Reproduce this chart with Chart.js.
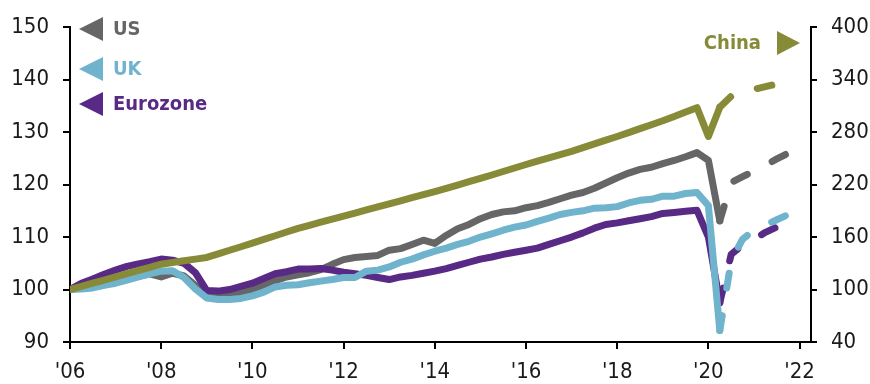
<!DOCTYPE html>
<html>
<head>
<meta charset="utf-8">
<script src="https://cdn.jsdelivr.net/npm/chart.js@4"></script>
<style>
  html, body { margin: 0; padding: 0; background: #fff; }
</style>
</head>
<body>
<canvas id="myChart" width="870" height="384"></canvas>
<script>
// quarterly index levels, 2006 Q1 = 100 (China on the right-hand axis)
const startYear = 2006;
const endYear = 2021;
const forecastStart = 57; // 2020 Q2 onward is drawn dashed

const usGdp = [
  100.0, 100.4, 100.8, 101.2, 101.6, 102.0, 102.5, 103.0,
  102.4, 103.1, 102.6, 100.8, 99.3, 98.7, 98.8, 99.3,
  100.0, 100.9, 101.7, 102.4, 102.8, 103.2, 103.8, 104.8,
  105.7, 106.1, 106.3, 106.5, 107.5, 107.8, 108.6, 109.4,
  108.8, 110.3, 111.6, 112.4, 113.5, 114.3, 114.8, 115.0,
  115.6, 116.0, 116.6, 117.3, 118.0, 118.5, 119.3, 120.3,
  121.3, 122.2, 122.9, 123.3, 124.0, 124.6, 125.3, 126.1,
  124.6, 113.1, 120.4, 121.5, 122.6, 123.7, 124.9, 126.0
];
const ukGdp = [
  100.0, 100.1, 100.3, 100.8, 101.2, 101.8, 102.4, 103.0,
  103.5, 103.6, 102.3, 100.1, 98.4, 98.1, 98.1, 98.3,
  98.8, 99.5, 100.5, 100.8, 100.9, 101.3, 101.6, 101.9,
  102.3, 102.3, 103.5, 103.7, 104.3, 105.2, 105.8, 106.6,
  107.3, 107.9, 108.6, 109.2, 110.0, 110.6, 111.3, 111.9,
  112.3, 113.0, 113.6, 114.3, 114.7, 115.0, 115.5, 115.6,
  115.8, 116.5, 117.0, 117.2, 117.8, 117.8, 118.3, 118.5,
  116.0, 92.2, 105.5, 109.6, 111.3, 112.3, 113.3, 114.3
];
const euroGdp = [
  100.0, 101.2, 102.0, 102.9, 103.7, 104.4, 104.9, 105.3,
  105.8, 105.6, 105.0, 103.2, 99.8, 99.7, 100.0, 100.6,
  101.2, 102.1, 103.0, 103.4, 103.9, 103.9, 104.0, 103.7,
  103.3, 103.0, 102.7, 102.3, 101.9, 102.4, 102.7, 103.1,
  103.5, 104.0, 104.6, 105.2, 105.8, 106.2, 106.7, 107.1,
  107.5, 107.9, 108.6, 109.3, 110.0, 110.8, 111.7, 112.4,
  112.7, 113.1, 113.5, 113.9, 114.5, 114.7, 114.9, 115.1,
  110.0, 97.5, 106.7, 108.5, 109.6, 110.9, 111.9, 112.8
];
const chinaGdp = [
  100.0, 103.6, 107.3, 110.9, 114.5, 118.1, 121.8, 125.4,
  129.0, 131.0, 133.0, 134.8, 136.7, 140.8, 144.9, 148.9,
  153.0, 157.3, 161.5, 165.8, 170.0, 173.5, 177.0, 180.5,
  184.0, 187.5, 191.0, 194.5, 198.0, 201.5, 205.0, 208.5,
  212.0, 215.8, 219.5, 223.3, 227.0, 231.0, 235.0, 239.0,
  243.0, 246.8, 250.5, 254.3, 258.0, 262.3, 266.5, 270.8,
  275.0, 279.5, 284.0, 288.5, 293.0, 298.0, 303.0, 308.0,
  275.0, 308.5, 321.0, 326.0, 329.0, 332.0, 335.0, 338.0
];

const xTickYears = [2006, 2008, 2010, 2012, 2014, 2016, 2018, 2020, 2022];
const leftTicks = [90, 100, 110, 120, 130, 140, 150];
const rightTicks = [40, 100, 160, 220, 280, 340, 400];

const colors = { us: '#666666', uk: '#70b3cd', euro: '#582a85', china: '#878b37' };

// quarter positions as decimal years
const quarters = [];
for (let y = startYear; y <= endYear; y++) {
  for (let q = 0; q < 4; q++) quarters.push(y + q / 4);
}
const toPoints = vals => vals.map((v, i) => ({ x: quarters[i], y: v }));

const fontFamily = '"Liberation Sans Narrow", "DejaVu Sans Condensed", "Noto Sans", sans-serif';
const tickFont = { family: fontFamily, size: 22 };

function lineSet(label, vals, color, axis, order) {
  return {
    label: label,
    data: toPoints(vals),
    yAxisID: axis,
    borderColor: color,
    backgroundColor: color,
    borderWidth: 7,
    pointRadius: 0,
    tension: 0,
    borderJoinStyle: 'round',
    borderCapStyle: 'round',
    order: order,
    segment: {
      borderDash: ctx => ctx.p0DataIndex >= forecastStart ? [15, 28] : undefined
    }
  };
}

const legendItems = [
  { text: 'US', color: colors.us, y: 29, side: 'left' },
  { text: 'UK', color: colors.uk, y: 69, side: 'left' },
  { text: 'Eurozone', color: colors.euro, y: 104, side: 'left' },
  { text: 'China', color: colors.china, y: 43, side: 'right' }
];

const legendMarks = {
  id: 'legendMarks',
  afterDraw(chart) {
    const c = chart.ctx;
    c.save();
    c.font = 'bold 20px ' + fontFamily;
    c.textBaseline = 'middle';
    legendItems.forEach(item => {
      c.fillStyle = item.color;
      c.beginPath();
      if (item.side === 'left') {
        c.moveTo(79, item.y);
        c.lineTo(103, item.y - 12);
        c.lineTo(103, item.y + 12);
        c.closePath();
        c.fill();
        c.textAlign = 'left';
        c.fillText(item.text, 113, item.y + 1);
      } else {
        c.moveTo(800, item.y);
        c.lineTo(777, item.y - 12);
        c.lineTo(777, item.y + 12);
        c.closePath();
        c.fill();
        c.textAlign = 'right';
        c.fillText(item.text, 761, item.y + 1);
      }
    });
    c.restore();
  }
};

const axisGrid = { drawOnChartArea: false, drawTicks: true, tickLength: 7, color: '#000', lineWidth: 2, tickWidth: 2 };
const axisBorder = { display: true, color: '#000', width: 2 };

new Chart(document.getElementById('myChart'), {
  type: 'line',
  data: {
    datasets: [
      lineSet('China', chinaGdp, colors.china, 'y2', 0),
      lineSet('UK', ukGdp, colors.uk, 'y', 1),
      lineSet('Eurozone', euroGdp, colors.euro, 'y', 2),
      lineSet('US', usGdp, colors.us, 'y', 3)
    ]
  },
  options: {
    responsive: false,
    animation: false,
    devicePixelRatio: 1,
    layout: { padding: { top: 18, left: 0, right: 0, bottom: 0 } },
    plugins: { legend: { display: false }, tooltip: { enabled: false } },
    scales: {
      x: {
        type: 'linear',
        min: 2006,
        max: 2022.25,
        afterBuildTicks: s => { s.ticks = xTickYears.map(v => ({ value: v })); },
        afterFit: s => { s.height = 42; },
        ticks: {
          callback: v => "'" + String(v).slice(2),
          font: tickFont, color: '#1a1a1a', padding: 10,
          maxRotation: 0, autoSkip: false
        },
        grid: axisGrid,
        border: axisBorder
      },
      y: {
        position: 'left',
        min: 90,
        max: 150,
        afterBuildTicks: s => { s.ticks = leftTicks.map(v => ({ value: v })); },
        afterFit: s => { s.width = 70; },
        ticks: { font: tickFont, color: '#1a1a1a', padding: 14 },
        grid: axisGrid,
        border: axisBorder
      },
      y2: {
        position: 'right',
        min: 40,
        max: 400,
        afterBuildTicks: s => { s.ticks = rightTicks.map(v => ({ value: v })); },
        afterFit: s => { s.width = 59; },
        ticks: { font: tickFont, color: '#1a1a1a', padding: 14 },
        grid: { ...axisGrid, tickLength: 6 },
        border: axisBorder
      }
    }
  },
  plugins: [legendMarks]
});
</script>
</body>
</html>
